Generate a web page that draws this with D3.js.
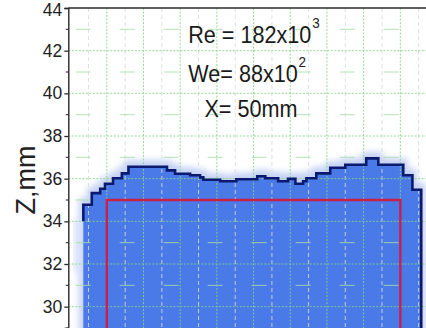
<!DOCTYPE html>
<html>
<head>
<meta charset="utf-8">
<script src="https://cdn.jsdelivr.net/npm/d3@7"></script>
<style>
  html, body { margin: 0; padding: 0; background: #fff; }
  svg { display: block; }
</style>
</head>
<body>
<svg id="chart" width="426" height="328"></svg>
<script>
// Axis ticks (Z, mm)
const zMajorTicks = [30, 32, 34, 36, 38, 40, 42, 44];
const zMinorTicks = [29, 31, 33, 35, 37, 39, 41, 43];

// Free-surface profile: step start positions (mm) and level of each step (Z, mm)
const profileX = [-46.4, -44.1, -41.8, -40.5, -38.3, -35.9, -34.1, -23.6, -21.4, -17.3,
                  -14.6, -13.7, -9.1, -4.7, 1.0, 3.2, 6.7, 9.4, 11.4, 13.5,
                  14.4, 17.1, 20.9, 25.0, 30.7, 34.0, 40.8, 43.3];
const profileZ = [34.78, 35.32, 35.53, 35.76, 36.02, 36.25, 36.56, 36.39, 36.23, 36.16,
                  36.06, 35.95, 35.88, 35.97, 36.11, 36.02, 35.88, 35.99, 35.76, 35.88,
                  36.02, 36.25, 36.51, 36.65, 36.95, 36.65, 36.16, 35.48];
const profileEndX = 45.7;

// Body outline (red): half-width and top height
const bodyX = [-40, 40];
const bodyTop = 35;

// Flow parameters
const annotations = [
  { main: "Re = 182x10", sup: "3", x: -17.8, z: 42.36 },
  { main: "We= 88x10",   sup: "2", x: -17.8, z: 40.54 },
  { main: "X= 50mm",     sup: "",  x: -13.4, z: 38.9 }
];
const yTitle = "Z,mm";

const svg = d3.select("#chart");
const W = 426, H = 328;

const x = d3.scaleLinear().domain([-50.5, 47]).range([68.3, 426]);
const y = d3.scaleLinear().domain([29, 44]).range([328, 8]);

const defs = svg.append("defs");
defs.append("filter").attr("id", "halo").attr("x", "-20%").attr("y", "-20%")
  .attr("width", "140%").attr("height", "140%")
  .append("feGaussianBlur").attr("stdDeviation", 3);
defs.append("clipPath").attr("id", "plotClip")
  .append("rect").attr("x", x.range()[0]).attr("y", y.range()[1])
  .attr("width", W - x.range()[0]).attr("height", H - y.range()[1]);

const plot = svg.append("g").attr("clip-path", "url(#plotClip)");

// profile points
const pts = profileX.map((px, i) => [px, profileZ[i]]);
pts.push([profileEndX, profileZ[profileZ.length - 1]]);

const area = d3.area()
  .x(d => x(d[0]))
  .y0(y(28))
  .y1(d => y(d[1]))
  .curve(d3.curveStepAfter);

// soft halo around the liquid surface
plot.append("path")
  .datum(pts)
  .attr("d", area)
  .attr("transform", "translate(0,-2)")
  .attr("fill", "#bccbf3")
  .attr("stroke", "#c3d0f4")
  .attr("stroke-width", 9)
  .attr("filter", "url(#halo)");
plot.append("rect")
  .attr("x", x(-48.7)).attr("width", x(-47.0) - x(-48.7))
  .attr("y", y(34.1)).attr("height", y(31.6) - y(34.1))
  .attr("fill", "#d6e0f8")
  .attr("filter", "url(#halo)");

// liquid fill
plot.append("path")
  .datum(pts)
  .attr("d", area)
  .attr("fill", "#4a79e8");

// grid
const gridG = plot.append("g").attr("opacity", 0.85);
const majorX = d3.range(-40, 41, 10);
const minorX = d3.range(-45, 46, 10);
gridG.selectAll(".gmx").data(minorX).join("line")
  .attr("x1", d => x(d)).attr("x2", d => x(d))
  .attr("y1", y(44)).attr("y2", H)
  .attr("stroke", "#d6ddd6").attr("stroke-width", 1)
  .attr("stroke-dasharray", "4,3");
gridG.selectAll(".gMx").data(majorX).join("line")
  .attr("x1", d => x(d)).attr("x2", d => x(d))
  .attr("y1", y(44)).attr("y2", H)
  .attr("stroke", "#86d486").attr("stroke-width", 1)
  .attr("stroke-dasharray", "2,1.5");
gridG.selectAll(".gMz").data(zMajorTicks.filter(v => v < 44)).join("line")
  .attr("x1", x.range()[0]).attr("x2", W)
  .attr("y1", d => y(d)).attr("y2", d => y(d))
  .attr("stroke", "#86d486").attr("stroke-width", 1)
  .attr("stroke-dasharray", "2,1.5");
gridG.selectAll(".gmz").data(zMinorTicks.filter(v => v > 29)).join("line")
  .attr("x1", x(-48.5)).attr("x2", W)
  .attr("y1", d => y(d)).attr("y2", d => y(d))
  .attr("stroke", "#a8dea8").attr("stroke-width", 1)
  .attr("stroke-dasharray", "15,29");

// body outline
const body = d3.line().x(d => x(d[0])).y(d => y(d[1]));
plot.append("path")
  .datum([[bodyX[0], 28], [bodyX[0], bodyTop], [bodyX[1], bodyTop], [bodyX[1], 28]])
  .attr("d", body)
  .attr("fill", "none")
  .attr("stroke", "#c92045")
  .attr("stroke-width", 2.4);

// surface outline
const outline = [[profileX[0], 34.0]].concat(pts.slice(0, -1)).concat([[profileEndX, 28.5]]);
plot.append("path")
  .datum(outline)
  .attr("d", d3.line().x(d => x(d[0])).y(d => y(d[1])).curve(d3.curveStepAfter))
  .attr("fill", "none")
  .attr("stroke", "#0b1a6e")
  .attr("stroke-width", 2.6)
  .attr("stroke-linejoin", "miter");

// spines
svg.append("line")
  .attr("x1", x.range()[0]).attr("x2", W)
  .attr("y1", y(44)).attr("y2", y(44))
  .attr("stroke", "#2b2b2b").attr("stroke-width", 1.4);

const axis = svg.append("g")
  .attr("transform", `translate(${x.range()[0]},0)`)
  .call(d3.axisLeft(y).tickValues(zMajorTicks).tickSize(4).tickPadding(2).tickFormat(d3.format("d")));
axis.select(".domain").attr("stroke", "#2b2b2b").attr("stroke-width", 1.4);
axis.selectAll(".tick line").attr("stroke", "#2b2b2b").attr("stroke-width", 1.3);
axis.selectAll(".tick text")
  .attr("font-family", "'Liberation Sans', Arial, sans-serif")
  .attr("font-size", 17.5)
  .attr("fill", "#222")
  .attr("dy", d => d === 44 ? "0.42em" : "0.32em");
svg.append("g").selectAll("line").data(zMinorTicks).join("line")
  .attr("x1", x.range()[0] - 2.5).attr("x2", x.range()[0])
  .attr("y1", d => y(d)).attr("y2", d => y(d))
  .attr("stroke", "#2b2b2b").attr("stroke-width", 1.1);

// axis title
svg.append("text")
  .attr("transform", `translate(35,180) rotate(-90)`)
  .attr("text-anchor", "middle")
  .attr("font-family", "'Liberation Sans', Arial, sans-serif")
  .attr("font-size", 27)
  .attr("fill", "#222")
  .text(yTitle);

// flow parameter labels
annotations.forEach(a => {
  const t = svg.append("text")
    .attr("transform", `translate(${x(a.x)},${y(a.z)}) scale(0.9,1)`)
    .attr("font-family", "'Liberation Sans', Arial, sans-serif")
    .attr("font-size", 24)
    .attr("fill", "#1a1a1a");
  t.append("tspan").text(a.main);
  if (a.sup) {
    t.append("tspan").attr("dy", -15).attr("dx", 1).attr("font-size", 15).text(a.sup);
  }
});
</script>
</body>
</html>
